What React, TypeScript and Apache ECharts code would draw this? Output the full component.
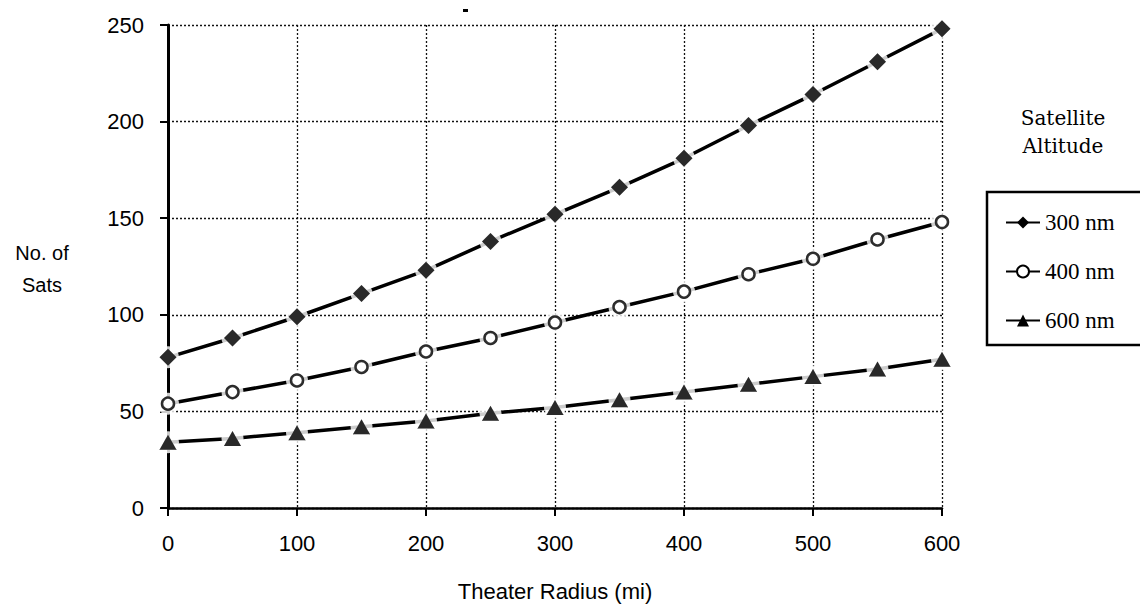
import React, { useEffect, useRef } from "react";
import * as echarts from "echarts";

const radius = [0, 50, 100, 150, 200, 250, 300, 350, 400, 450, 500, 550, 600];
const sats300 = [78, 88, 99, 111, 123, 138, 152, 166, 181, 198, 214, 231, 248];
const sats400 = [54, 60, 66, 73, 81, 88, 96, 104, 112, 121, 129, 139, 148];
const sats600 = [34, 36, 39, 42, 45, 49, 52, 56, 60, 64, 68, 72, 77];
const seriesNames = ["300 nm", "400 nm", "600 nm"];

const pairs = (vals: number[]) => radius.map((r, i) => [r, vals[i]]);

export default function App() {
  const ref = useRef<HTMLDivElement>(null);
  useEffect(() => {
    if (!ref.current) return;
    const chart = echarts.init(ref.current, null, { renderer: "svg" });
    const markerDefs = [
      {
        name: seriesNames[0],
        data: pairs(sats300),
        symbol: "diamond",
        symbolSize: [17, 17],
        itemStyle: { color: "#000", borderColor: "#000", borderWidth: 0 },
      },
      {
        name: seriesNames[1],
        data: pairs(sats400),
        symbol: "circle",
        symbolSize: 12,
        itemStyle: { color: "#fff", borderColor: "#000", borderWidth: 2.5 },
      },
      {
        name: seriesNames[2],
        data: pairs(sats600),
        symbol: "triangle",
        symbolSize: [17, 15],
        itemStyle: { color: "#000", borderColor: "#000", borderWidth: 0 },
      },
    ];
    const series: any[] = [];
    markerDefs.forEach((d) => {
      series.push({
        type: "line",
        name: d.name,
        data: d.data,
        symbol: d.symbol,
        symbolSize: d.symbolSize,
        showSymbol: true,
        itemStyle: d.itemStyle,
        lineStyle: { color: "#000", width: 3.5 },
        z: 2,
        silent: true,
      });
      series.push({
        type: "scatter",
        data: d.data,
        symbol: "circle",
        symbolSize: 22,
        itemStyle: { color: "#fff" },
        z: 3,
        silent: true,
      });
      series.push({
        type: "scatter",
        data: d.data,
        symbol: d.symbol,
        symbolSize: d.symbolSize,
        itemStyle: d.itemStyle,
        z: 4,
        silent: true,
      });
    });

    const txt = (text: string, x: number, y: number, family: string, size: number) => ({
      type: "text",
      x,
      y,
      style: {
        text,
        textAlign: "center",
        textVerticalAlign: "middle",
        fontFamily: family,
        fontSize: size,
        fill: "#000",
      },
      silent: true,
    });

    chart.setOption({
      animation: false,
      backgroundColor: "#fff",
      grid: { left: 160, right: 198, top: 17, bottom: 92 },
      xAxis: {
        type: "value",
        min: 0,
        max: 600,
        interval: 100,
        name: "Theater Radius (mi)",
        nameLocation: "middle",
        nameGap: 72,
        nameTextStyle: { fontFamily: "Liberation Sans", fontSize: 22, color: "#000" },
        axisLine: { show: true, lineStyle: { color: "#000", width: 2.5 } },
        axisTick: { show: true, length: 8, lineStyle: { color: "#000", width: 2 } },
        axisLabel: { fontFamily: "Liberation Sans", fontSize: 22, color: "#000", margin: 24 },
        splitLine: { show: true, lineStyle: { color: "#111", width: 1.3, type: [2, 2] } },
      },
      yAxis: {
        type: "value",
        min: 0,
        max: 250,
        interval: 50,
        axisLine: { show: true, lineStyle: { color: "#000", width: 3 } },
        axisTick: { show: true, length: 8, lineStyle: { color: "#000", width: 2 } },
        axisLabel: { fontFamily: "Liberation Sans", fontSize: 22, color: "#000", margin: 24 },
        splitLine: { show: true, lineStyle: { color: "#111", width: 1.3, type: [2, 2] } },
      },
      legend: {
        data: seriesNames,
        orient: "vertical",
        left: 992,
        top: 198,
        itemGap: 26,
        itemWidth: 34,
        itemHeight: 15,
        textStyle: { fontFamily: "Liberation Serif", fontSize: 23, color: "#000" },
        selectedMode: false,
      },
      graphic: [
        {
          type: "rect",
          shape: { x: 979, y: 184, width: 156, height: 153 },
          style: { fill: "none", stroke: "#000", lineWidth: 2.5 },
          silent: true,
        },
        txt("Satellite", 1055, 110, "DejaVu Serif", 20),
        txt("Altitude", 1055, 138, "DejaVu Serif", 20),
        txt("No. of", 34, 245, "Liberation Sans", 20),
        txt("Sats", 34, 277, "Liberation Sans", 20),
        {
          type: "rect",
          shape: { x: 455, y: 1, width: 5, height: 3 },
          style: { fill: "#000" },
          silent: true,
        },
      ],
      series,
    });
    return () => chart.dispose();
  }, []);
  return <div ref={ref} style={{ width: 1132, height: 599 }} />;
}
